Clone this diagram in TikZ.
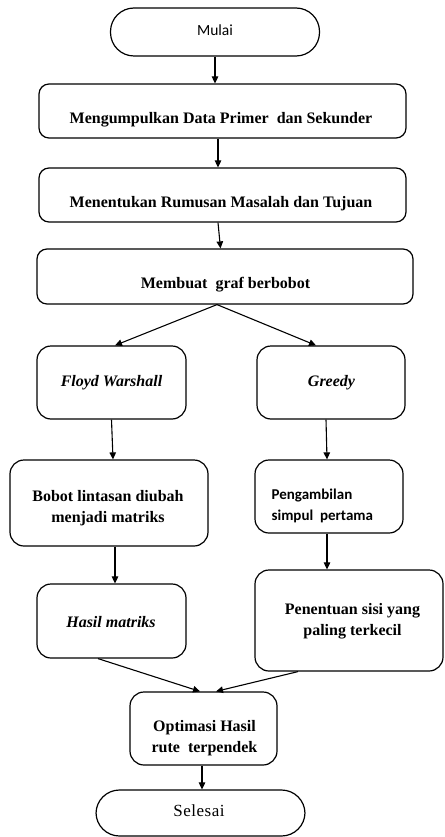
\documentclass[tikz,border=0pt]{standalone}
\usepackage{fontspec}
\setmainfont{Liberation Serif}
\newfontfamily\carlitofont{Carlito}
\usetikzlibrary{arrows.meta,calc}
\begin{document}
\begin{tikzpicture}[x=1pt,y=-1pt,line width=1.2pt,
  box/.style={draw,rounded corners=10pt,inner sep=0pt},
  bigbox/.style={draw,rounded corners=14pt,inner sep=0pt},
  term/.style={draw,rounded corners=23.5pt,inner sep=0pt},
  arr/.style={-{Triangle[length=7pt,width=6.5pt]},line width=1.1pt},
  lbl/.style={inner sep=0pt,align=center,font=\fontsize{16}{21}\selectfont\bfseries},
  ilbl/.style={inner sep=0pt,align=center,font=\fontsize{16}{21}\selectfont\bfseries\itshape},
  slbl/.style={inner sep=0pt,align=left,font=\carlitofont\fontsize{15}{21}\selectfont\bfseries}]
\useasboundingbox (0,0) rectangle (444,837);
% shapes
\node[term,minimum width=209pt,minimum height=48pt] (mulai) at (215,32) {};
\node[box,minimum width=367pt,minimum height=54pt] (b1) at (222.5,111) {};
\node[box,minimum width=367pt,minimum height=54pt] (b2) at (222.5,195) {};
\node[box,minimum width=376pt,minimum height=55pt] (b3) at (225,276.5) {};
\node[bigbox,minimum width=149pt,minimum height=73pt] (fw) at (111.5,382.5) {};
\node[bigbox,minimum width=148pt,minimum height=73pt] (gr) at (331,382.5) {};
\node[bigbox,minimum width=198pt,minimum height=86pt] (bobot) at (109,503) {};
\node[bigbox,minimum width=148pt,minimum height=73pt] (peng) at (329,496.5) {};
\node[bigbox,minimum width=149pt,minimum height=74pt] (hasil) at (111.5,621) {};
\node[bigbox,minimum width=188pt,minimum height=101pt] (pen) at (349,620.5) {};
\node[bigbox,minimum width=147pt,minimum height=73pt] (opt) at (203.5,728.5) {};
\node[term,minimum width=209pt,minimum height=46pt] (sel) at (200.5,813) {};
% texts
\node[inner sep=0pt,font=\carlitofont\fontsize{15.5}{18}\selectfont] (tmulai) at (215,30) {Mulai};
\node[lbl] (t1) at (221,120) {Mengumpulkan Data Primer\ \ dan Sekunder};
\node[lbl] (t2) at (221,204) {Menentukan Rumusan Masalah dan Tujuan};
\node[lbl] (t3) at (225.5,285) {Membuat\ \ graf berbobot};
\node[ilbl] (tfw) at (111.5,383) {Floyd Warshall};
\node[ilbl] (tgr) at (331.5,383) {Greedy};
\node[lbl] (tbobot) at (108,508) {Bobot lintasan diubah\\menjadi matriks};
\node[slbl,anchor=west] (tpeng) at (271,506) {Pengambilan\\simpul\ \ pertama};
\node[ilbl] (thasil) at (111,622) {Hasil matriks};
\node[lbl] (tpen) at (352.5,621) {Penentuan sisi yang\\paling terkecil};
\node[lbl] (topt) at (204.5,738) {Optimasi Hasil\\rute\ \ terpendek};
\node[inner sep=0pt,font=\fontsize{17}{20}\selectfont] (tsel) at (199,811) {S\kern0.5pt e\kern0.5pt l\kern0.5pt e\kern0.5pt s\kern0.5pt a\kern0.5pt i};
% connectors
\draw[arr] (mulai.south) -- (mulai.south |- b1.north);
\draw[arr] ([xshift=-4.5pt]b1.south) -- ([xshift=-4.5pt]b2.north);
\draw[arr] ([xshift=-4.5pt]b2.south) -- ([xshift=-4.5pt]b3.north);
\draw[arr] ([xshift=-8pt]b3.south) -- ([xshift=3.5pt]fw.north);
\draw[arr] ([xshift=-8pt]b3.south) -- ([xshift=-15pt]gr.north);
\draw[arr] (fw.south) -- ([xshift=4pt]bobot.north);
\draw[arr] ([xshift=-5pt]gr.south) -- ([xshift=-2pt]peng.north);
\draw[arr] ([xshift=6pt]bobot.south) -- ([xshift=3.5pt]hasil.north);
\draw[arr] ([xshift=-2pt]peng.south) -- ([xshift=-22pt]pen.north);
\draw[arr] ([xshift=-13.5pt]hasil.south) -- ([xshift=-3.5pt]opt.north);
\draw[arr] ([xshift=-51pt]pen.south) -- ([xshift=12.5pt]opt.north);
\draw[arr] ([xshift=-1.5pt]opt.south) -- ([xshift=1.5pt]sel.north);
\end{tikzpicture}
\end{document}
